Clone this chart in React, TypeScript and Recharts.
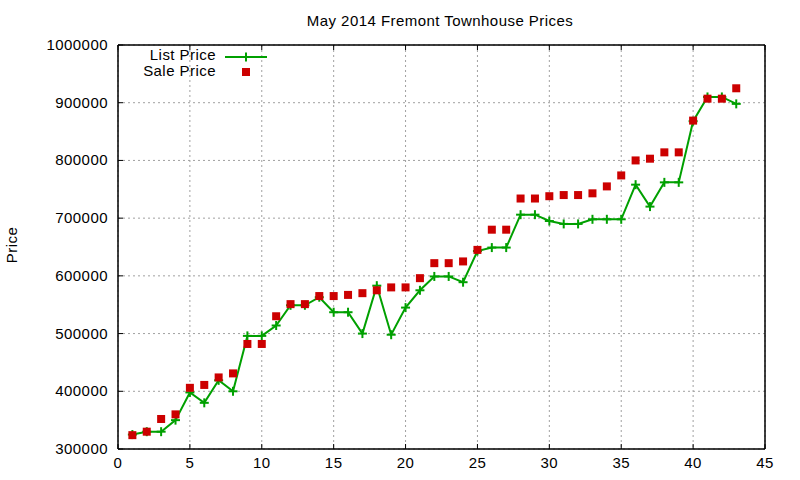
import React from 'react';
import { ComposedChart, Line, XAxis, YAxis, CartesianGrid, ReferenceArea } from 'recharts';

const listings = [
  1, 2, 3, 4, 5, 6, 7, 8, 9, 10, 11, 12, 13, 14, 15, 16, 17, 18, 19, 20, 21, 22,
  23, 24, 25, 26, 27, 28, 29, 30, 31, 32, 33, 34, 35, 36, 37, 38, 39, 40, 41, 42, 43,
];

const listPrices = [
  325000, 330000, 330000, 350000, 398000, 380000, 419000, 400000, 496000, 496000,
  514000, 549000, 549000, 563000, 537000, 537000, 500000, 583000, 498000, 545000,
  575000, 599000, 599000, 589000, 643000, 649000, 649000, 706000, 706000, 695000,
  690000, 690000, 698000, 698000, 698000, 758000, 720000, 762000, 762000, 868000,
  910000, 910000, 898000,
];

const salePrices = [
  324000, 330000, 352000, 360000, 406000, 411000, 424000, 431000, 482000, 482000,
  530000, 551000, 551000, 565000, 565000, 567000, 570000, 575000, 580000, 580000,
  596000, 622000, 622000, 625000, 645000, 680000, 680000, 734000, 734000, 738000,
  740000, 740000, 743000, 755000, 774000, 800000, 803000, 814000, 814000, 869000,
  907000, 907000, 925000,
];

const xTicks = [0, 5, 10, 15, 20, 25, 30, 35, 40, 45];
const yTicks = [300000, 400000, 500000, 600000, 700000, 800000, 900000, 1000000];

const GREEN = '#00a000';
const RED = '#cc0000';
const FONT = '"Liberation Sans", Arial, sans-serif';

const data = listings.map((n, i) => ({ n, list: listPrices[i], sale: salePrices[i] }));

const textStyle = { fontFamily: FONT, fontSize: 15, letterSpacing: 0.45, fill: '#000' };

function PlusDot(props: any) {
  const { cx, cy } = props;
  if (cx == null || cy == null) return null;
  return (
    <g>
      <line x1={cx - 4.5} x2={cx + 4.5} y1={cy} y2={cy} stroke={GREEN} strokeWidth={2} />
      <line x1={cx} x2={cx} y1={cy - 4.5} y2={cy + 4.5} stroke={GREEN} strokeWidth={2} />
    </g>
  );
}

function SquareDot(props: any) {
  const { cx, cy } = props;
  if (cx == null || cy == null) return null;
  return <rect x={cx - 4} y={cy - 4} width={8} height={8} fill={RED} />;
}

function LeftTick(props: any) {
  const { x, y, payload } = props;
  return (
    <g>
      <line x1={x + 10} x2={x + 15} y1={y} y2={y} stroke="#000" />
      <text x={x} y={y} dy={5} textAnchor="end" style={textStyle}>
        {String(payload.value)}
      </text>
    </g>
  );
}

function BottomTick(props: any) {
  const { x, y, payload } = props;
  return (
    <g>
      <line x1={x} x2={x} y1={y - 8} y2={y - 13} stroke="#000" />
      <text x={x} y={y} dy={11} textAnchor="middle" style={textStyle}>
        {String(payload.value)}
      </text>
    </g>
  );
}

function TopTick(props: any) {
  const { x, y } = props;
  return <line x1={x} x2={x} y1={y} y2={y + 5} stroke="#000" />;
}

function RightTick(props: any) {
  const { x, y } = props;
  return <line x1={x - 5} x2={x} y1={y} y2={y} stroke="#000" />;
}

export default function App() {
  return (
    <div style={{ position: 'absolute', left: 0, top: 0, width: 800, height: 480, background: '#fff' }}>
      <ComposedChart
        width={800}
        height={480}
        data={data}
        margin={{ top: 0, right: 0, bottom: 0, left: 0 }}
      >
        <CartesianGrid stroke="#a0a0a0" strokeDasharray="2 3" />
        <XAxis
          dataKey="n"
          type="number"
          domain={[0, 45]}
          ticks={xTicks}
          height={31}
          tickSize={0}
          tickMargin={8}
          tick={BottomTick}
          stroke="#000"
          interval={0}
        />
        <XAxis
          xAxisId="top"
          orientation="top"
          dataKey="n"
          type="number"
          domain={[0, 45]}
          ticks={xTicks}
          height={45}
          tickSize={0}
          tickMargin={0}
          tick={TopTick}
          stroke="#000"
          interval={0}
        />
        <YAxis
          type="number"
          domain={[300000, 1000000]}
          ticks={yTicks}
          width={118}
          tickSize={0}
          tickMargin={10}
          tick={LeftTick}
          stroke="#000"
          interval={0}
        />
        <YAxis
          yAxisId="right"
          orientation="right"
          type="number"
          domain={[300000, 1000000]}
          ticks={yTicks}
          width={35}
          tickSize={0}
          tickMargin={0}
          tick={RightTick}
          stroke="#000"
          interval={0}
        />
        <ReferenceArea
          x1={0}
          x2={45}
          y1={300000}
          y2={1000000}
          fill="none"
          stroke="#000"
          strokeWidth={1}
          ifOverflow="visible"
        />
        <Line
          dataKey="list"
          type="linear"
          stroke={GREEN}
          strokeWidth={2}
          dot={PlusDot}
          activeDot={false}
          isAnimationActive={false}
        />
        <Line
          dataKey="sale"
          type="linear"
          stroke="none"
          dot={SquareDot}
          activeDot={false}
          isAnimationActive={false}
        />
      </ComposedChart>
      <svg
        width={800}
        height={480}
        style={{ position: 'absolute', left: 0, top: 0, pointerEvents: 'none' }}
      >
        <text x={440} y={26} textAnchor="middle" style={textStyle}>
          May 2014 Fremont Townhouse Prices
        </text>
        <text transform="translate(17,245) rotate(-90)" textAnchor="middle" style={textStyle}>
          Price
        </text>
        <text x={216} y={60} textAnchor="end" style={textStyle}>
          List Price
        </text>
        <line x1={225} x2={267} y1={57} y2={57} stroke={GREEN} strokeWidth={2} />
        <PlusDot cx={246} cy={57} />
        <text x={216} y={76} textAnchor="end" style={textStyle}>
          Sale Price
        </text>
        <SquareDot cx={246} cy={72} />
      </svg>
    </div>
  );
}
